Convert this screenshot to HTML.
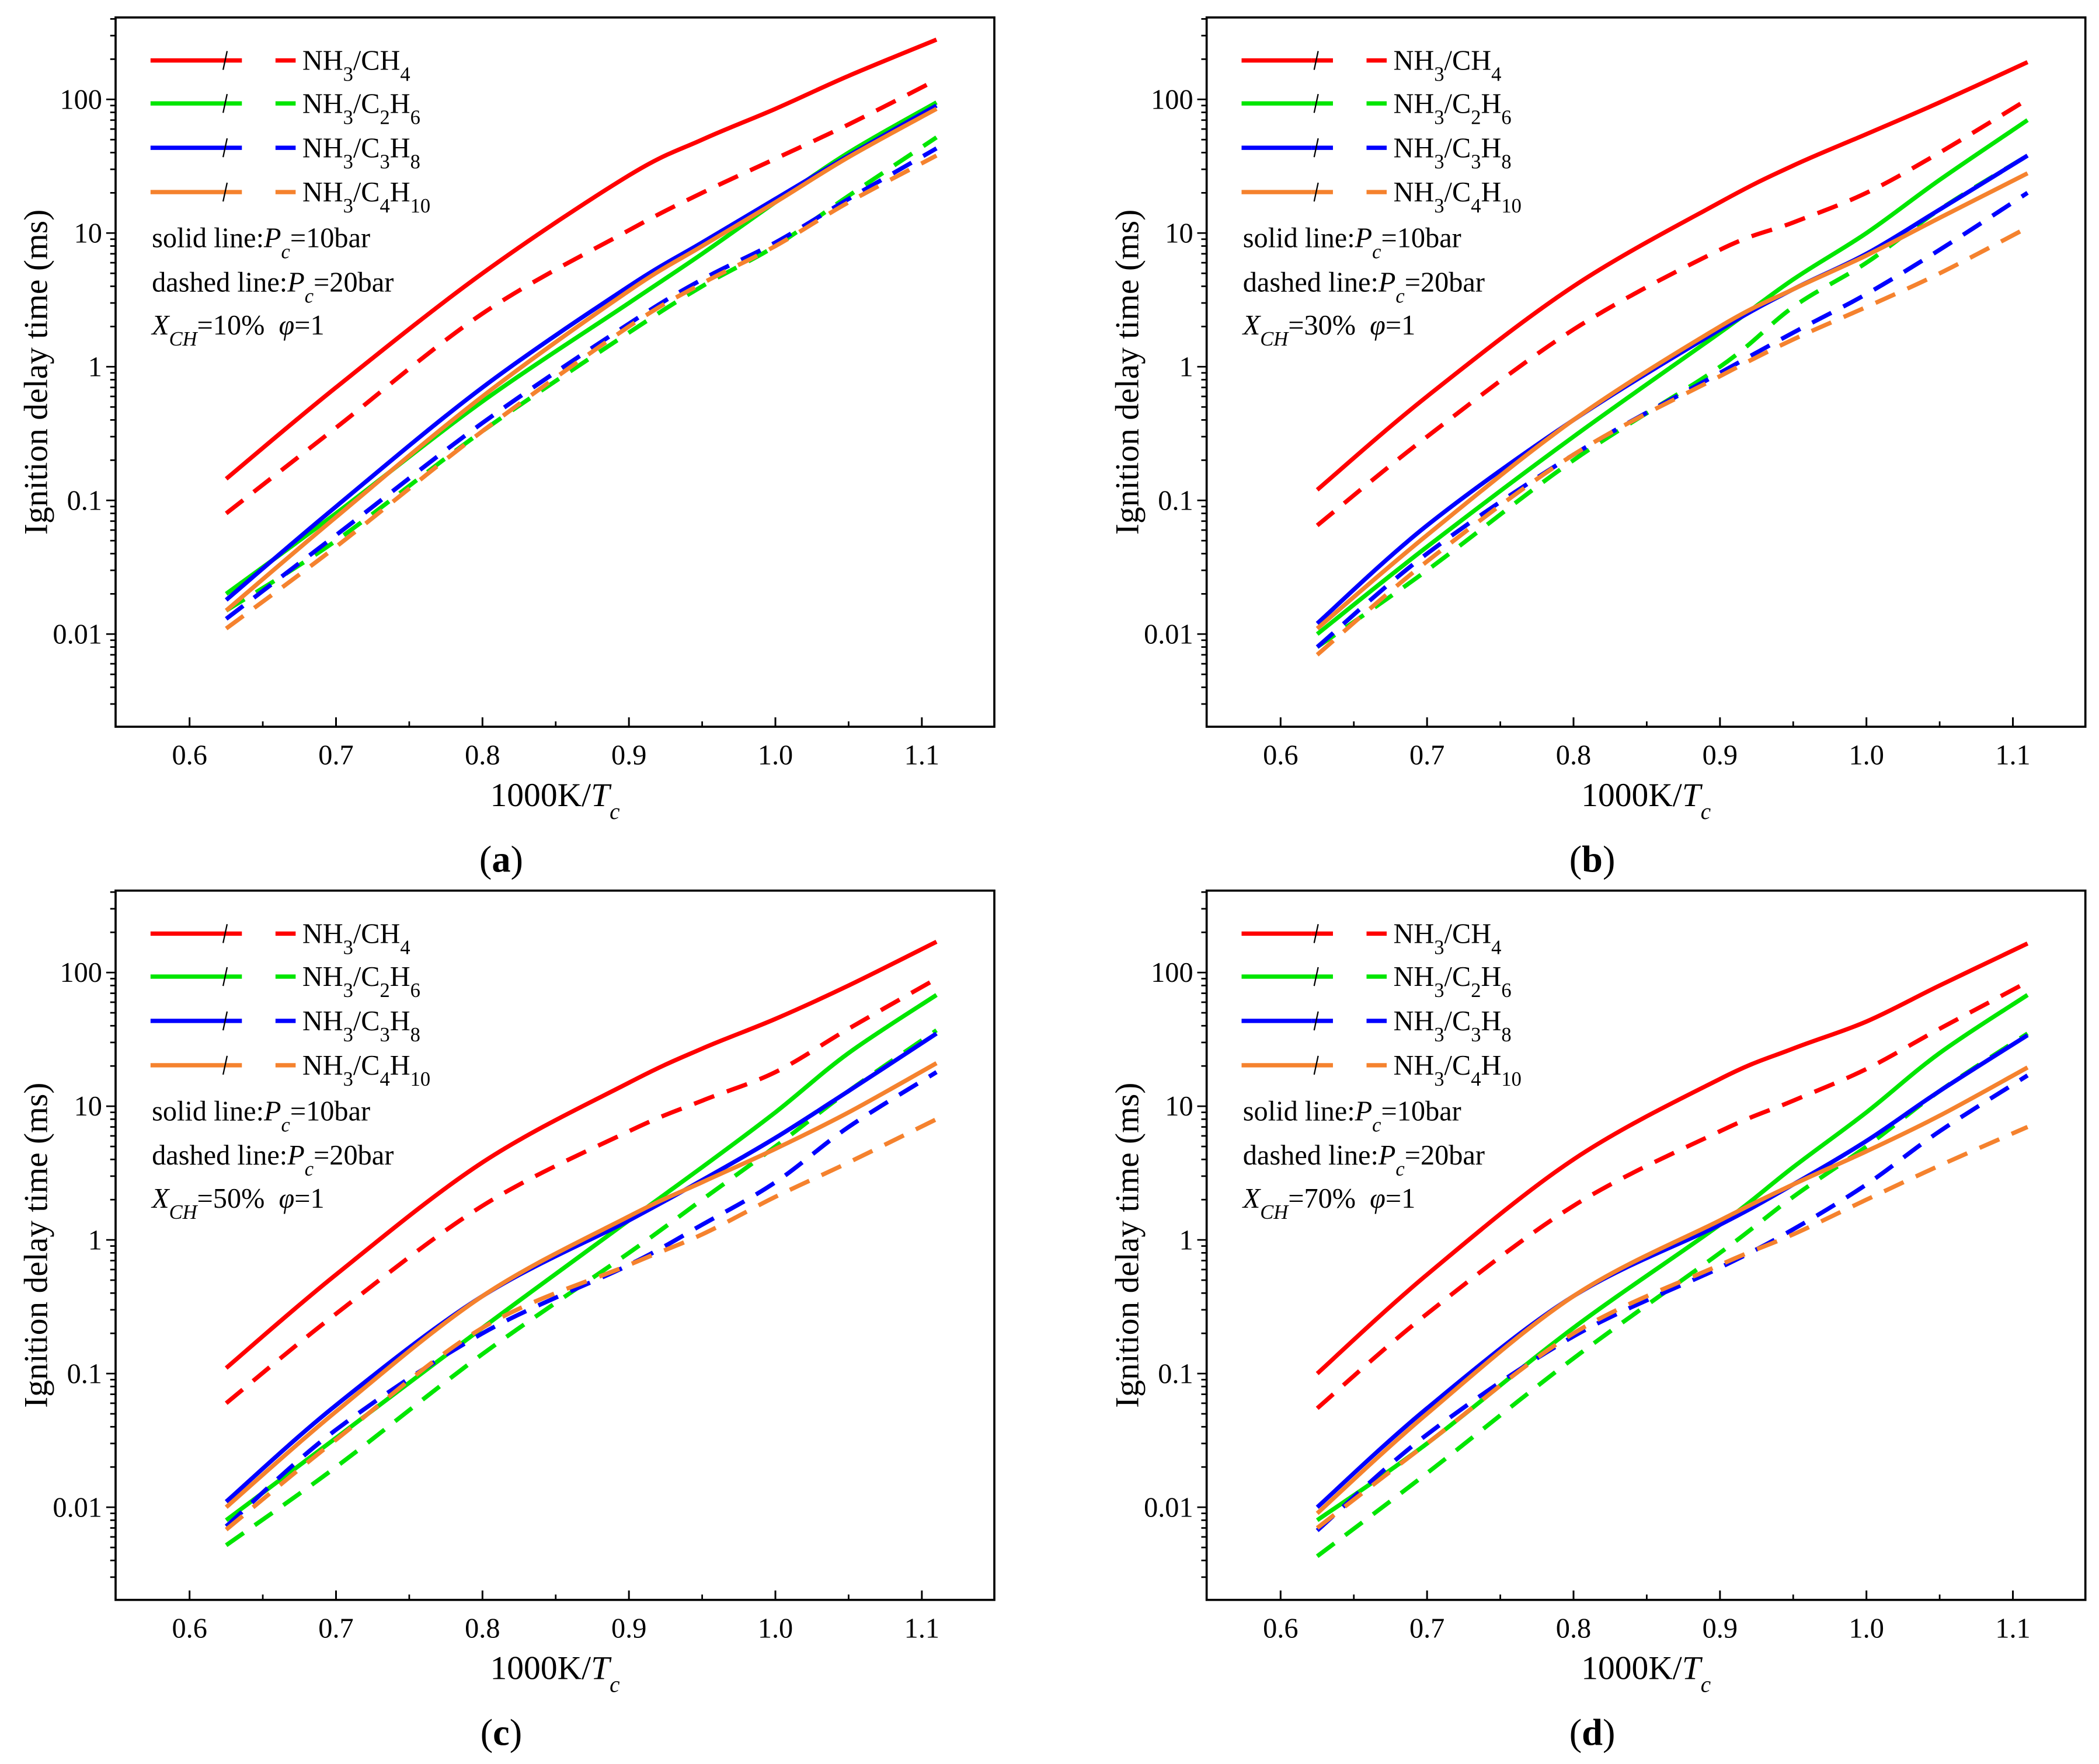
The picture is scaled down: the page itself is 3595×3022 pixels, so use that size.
<!DOCTYPE html>
<html><head><meta charset="utf-8"><style>
html,body{margin:0;padding:0;background:#fff;}
svg, svg text{font-family:"Liberation Serif","DejaVu Serif",serif;}
</style></head><body>
<svg id="fig" xmlns="http://www.w3.org/2000/svg" width="3595" height="3017" viewBox="0 0 1562.1 1311" font-family="Liberation Serif, serif"></svg>
<script>
const xs = [0.625, 0.7, 0.8, 0.9, 0.95, 1.0, 1.05, 1.11];
const panelLabels = ["a", "b", "c", "d"];
const xchLabels = ["10%", "30%", "50%", "70%"];
const fuels = ["CH4", "C2H6", "C3H8", "C4H10"];
const xTicks = [0.6, 0.7, 0.8, 0.9, 1.0, 1.1];
const xTickLabels = ["0.6", "0.7", "0.8", "0.9", "1.0", "1.1"];
const yTicks = [0.01, 0.1, 1, 10, 100];
const yTickLabels = ["0.01", "0.1", "1", "10", "100"];
// panel a
const aCH4s = [0.145, 0.7, 5, 27, 50, 85, 150, 280];
const aCH4d = [0.08, 0.35, 2.5, 10.5, 20, 36, 65, 140];
const aC2s = [0.020, 0.08, 0.55, 3.0, 7, 17, 40, 95];
const aC2d = [0.015, 0.05, 0.33, 1.8, 4, 8, 19, 52];
const aC3s = [0.018, 0.09, 0.7, 4.0, 8.5, 18, 38, 90];
const aC3d = [0.013, 0.055, 0.38, 2.1, 4.5, 8.5, 18, 43];
const aC4s = [0.015, 0.075, 0.6, 3.7, 8, 17, 37, 85];
const aC4d = [0.011, 0.045, 0.33, 2.0, 4.2, 8, 17, 38];
// panel b
const bCH4s = [0.12, 0.6, 4, 17, 32, 55, 95, 190];
const bCH4d = [0.065, 0.3, 1.9, 7.5, 12, 20, 40, 100];
const bC2s = [0.010, 0.045, 0.3, 1.8, 4.5, 10, 25, 70];
const bC2d = [0.008, 0.03, 0.2, 1.0, 2.8, 6, 15, 38];
const bC3s = [0.012, 0.065, 0.4, 1.9, 3.8, 7, 15, 38];
const bC3d = [0.008, 0.04, 0.22, 0.9, 1.8, 3.5, 7.5, 20];
const bC4s = [0.011, 0.055, 0.4, 2.0, 3.8, 6.8, 13, 28];
const bC4d = [0.007, 0.035, 0.22, 0.85, 1.6, 2.8, 5, 11];
// panel c
const cCH4s = [0.11, 0.55, 3.8, 15, 27, 45, 80, 170];
const cCH4d = [0.06, 0.28, 1.8, 6.5, 11, 18, 38, 90];
const cC2s = [0.008, 0.033, 0.22, 1.4, 3.5, 9, 25, 68];
const cC2d = [0.0052, 0.02, 0.14, 0.8, 2.0, 5, 13, 37];
const cC3s = [0.011, 0.058, 0.38, 1.4, 2.8, 5.8, 13, 35];
const cC3d = [0.0072, 0.038, 0.2, 0.65, 1.3, 2.7, 7, 18];
const cC4s = [0.010, 0.052, 0.38, 1.5, 2.7, 4.8, 9, 21];
const cC4d = [0.0068, 0.032, 0.22, 0.65, 1.1, 2.1, 3.8, 8];
// panel d
const dCH4s = [0.10, 0.55, 4, 16, 27, 43, 80, 165];
const dCH4d = [0.055, 0.28, 1.8, 6.5, 11, 19, 38, 85];
const dC2s = [0.008, 0.03, 0.22, 1.3, 3.5, 9, 25, 68];
const dC2d = [0.0043, 0.018, 0.13, 0.8, 2.1, 5, 13, 35];
const dC3s = [0.010, 0.055, 0.38, 1.3, 2.6, 5.5, 13, 34];
const dC3d = [0.0067, 0.035, 0.19, 0.62, 1.2, 2.6, 6.5, 17];
const dC4s = [0.009, 0.05, 0.38, 1.4, 2.6, 4.6, 8.5, 19.5];
const dC4d = [0.007, 0.03, 0.2, 0.65, 1.1, 2.0, 3.6, 7];

const panelSeries = [
  [[aCH4s,aCH4d],[aC2s,aC2d],[aC3s,aC3d],[aC4s,aC4d]],
  [[bCH4s,bCH4d],[bC2s,bC2d],[bC3s,bC3d],[bC4s,bC4d]],
  [[cCH4s,cCH4d],[cC2s,cC2d],[cC3s,cC3d],[cC4s,cC4d]],
  [[dCH4s,dCH4d],[dC2s,dC2d],[dC3s,dC3d],[dC4s,dC4d]]
];
const colors = ["#ff0000", "#00e600", "#0000ff", "#f5822e"];
const NS = "http://www.w3.org/2000/svg";
const svg = document.getElementById("fig");
function mk(tag, attrs, parent){const e=document.createElementNS(NS,tag);for(const k in attrs)e.setAttribute(k,attrs[k]);(parent||svg).appendChild(e);return e;}
const S='<tspan baseline-shift="sub" font-size="15">';
const fuelHTML = {CH4:'NH'+S+'3</tspan>/CH'+S+'4</tspan>',
 C2H6:'NH'+S+'3</tspan>/C'+S+'2</tspan>H'+S+'6</tspan>',
 C3H8:'NH'+S+'3</tspan>/C'+S+'3</tspan>H'+S+'8</tspan>',
 C4H10:'NH'+S+'3</tspan>/C'+S+'4</tspan>H'+S+'10</tspan>'};

function pathD(pts){
  let d="M"+pts[0][0].toFixed(2)+","+pts[0][1].toFixed(2);
  for(let i=0;i<pts.length-1;i++){
    const p0=pts[Math.max(i-1,0)],p1=pts[i],p2=pts[i+1],p3=pts[Math.min(i+2,pts.length-1)];
    const c1=[p1[0]+(p2[0]-p0[0])/6,p1[1]+(p2[1]-p0[1])/6];
    const c2=[p2[0]-(p3[0]-p1[0])/6,p2[1]-(p3[1]-p1[1])/6];
    d+=" C"+c1[0].toFixed(2)+","+c1[1].toFixed(2)+" "+c2[0].toFixed(2)+","+c2[1].toFixed(2)+" "+p2[0].toFixed(2)+","+p2[1].toFixed(2);
  }
  return d;
}

for(let p=0;p<4;p++){
  const ox=(p%2)*812, oy=Math.floor(p/2)*650;
  const L=86+ox,R=740+ox,T=13+oy,B=541+oy;
  const xMin=0.5495,xMax=1.1495, yMin=-2.693, yMax=2.613;
  const X=v=>L+(v-xMin)/(xMax-xMin)*(R-L);
  const Y=v=>B-(Math.log10(v)-yMin)/(yMax-yMin)*(B-T);
  const g=mk("g",{});
  
  
  const clipId="clip"+p;
  const cp=mk("clipPath",{id:clipId},g);mk("rect",{x:L,y:T,width:R-L,height:B-T},cp);
  const sg=mk("g",{"clip-path":"url(#"+clipId+")"},g);
  for(let f=0;f<4;f++){
    for(let k=0;k<2;k++){
      const vals=panelSeries[p][f][k];
      const pts=xs.map((x,i)=>[X(x),Y(vals[i])]);
      const path=mk("path",{d:pathD(pts),fill:"none",stroke:colors[f],"stroke-width":3.2,"stroke-linecap":"butt"},sg);
      if(k===1)path.setAttribute("stroke-dasharray","16 10");
      
      
    }
  }
  const fr=mk("rect",{x:L,y:T,width:R-L,height:B-T,fill:"none",stroke:"#000","stroke-width":1.6},g);
  
  
  for(let i=0;i<xTicks.length;i++){
    const x=X(xTicks[i]);
    mk("line",{x1:x,y1:B,x2:x,y2:B-7,stroke:"#000","stroke-width":1.3},g);
    const t=mk("text",{x:x,y:B+28,"text-anchor":"middle","font-size":21},g);
    t.textContent=xTickLabels[i];
    
    
  }
  for(let v=0.65;v<1.15;v+=0.1){const x=X(v);mk("line",{x1:x,y1:B,x2:x,y2:B-4,stroke:"#000","stroke-width":1.2},g);}
  for(let e=-3;e<=2;e++){
    for(let m=1;m<10;m++){
      const v=m*Math.pow(10,e);const lv=Math.log10(v);
      if(lv<yMin||lv>yMax)continue;
      const y=Y(v);
      mk("line",{x1:L,y1:y,x2:L-(m===1?7:4),y2:y,stroke:"#000","stroke-width":1.2},g);
    }
  }
  for(let i=0;i<yTicks.length;i++){
    const t=mk("text",{x:L-10,y:Y(yTicks[i])+7,"text-anchor":"end","font-size":21},g);
    t.textContent=yTickLabels[i];
    
    
  }
  const xt=mk("text",{x:(L+R)/2,y:B+59,"text-anchor":"middle","font-size":25},g);
  xt.innerHTML='1000K/<tspan font-style="italic">T</tspan><tspan font-style="italic" baseline-shift="sub" font-size="17">c</tspan>';
  
  
  const yt=mk("text",{x:0,y:0,"text-anchor":"middle","font-size":25,transform:"translate("+(ox+35)+","+(277+oy)+") rotate(-90)"},g);
  yt.textContent="Ignition delay time (ms)";
  
  
  const pl=mk("text",{x:(L+R)/2-40,y:B+108,"text-anchor":"middle","font-size":28},g);
  pl.innerHTML='(<tspan font-weight="bold">'+panelLabels[p]+'</tspan>)';
  
  
  const rows=[45,77,110,143];
  for(let f=0;f<4;f++){
    const y=rows[f]+oy, lx=112+ox;
    const lg=mk("g",{},g);
    
    
    mk("line",{x1:lx,y1:y,x2:lx+52,y2:y,stroke:colors[f],"stroke-width":3.2},lg);
    mk("line",{x1:lx+52,y1:y,x2:lx+68,y2:y,stroke:colors[f],"stroke-width":3.2},lg);
    mk("line",{x1:lx+54,y1:y+7,x2:lx+57,y2:y-7,stroke:"#000","stroke-width":1},lg);
    mk("line",{x1:lx+93,y1:y,x2:lx+108,y2:y,stroke:colors[f],"stroke-width":3.2},lg);
    const t=mk("text",{x:lx+113,y:y+7,"font-size":21},lg);
    t.innerHTML=fuelHTML[fuels[f]];
  }
  const a1=mk("text",{x:113+ox,y:184+oy,"font-size":21},g);
  a1.innerHTML='solid line:<tspan font-style="italic">P</tspan><tspan font-style="italic" baseline-shift="sub" font-size="15">c</tspan>=10bar';
  
  
  const a2=mk("text",{x:113+ox,y:217+oy,"font-size":21},g);
  a2.innerHTML='dashed line:<tspan font-style="italic">P</tspan><tspan font-style="italic" baseline-shift="sub" font-size="15">c</tspan>=20bar';
  
  
  const a3=mk("text",{x:113+ox,y:249+oy,"font-size":21},g);
  a3.innerHTML='<tspan font-style="italic">X</tspan><tspan font-style="italic" baseline-shift="sub" font-size="15">CH</tspan>='+xchLabels[p]+'\u00a0\u00a0<tspan font-style="italic">φ</tspan>=1';
  
  
}
</script>
</body></html>
